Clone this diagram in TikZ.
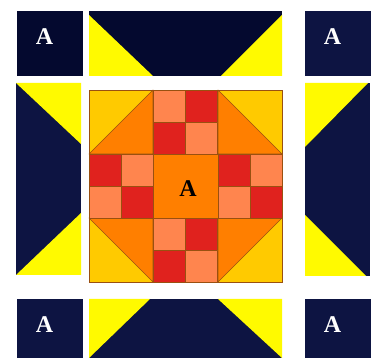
\documentclass[tikz,border=0pt]{standalone}
\usepackage{fontspec}
\setmainfont{Liberation Serif}
\usepackage{xcolor}
\usetikzlibrary{positioning}
\definecolor{quiltnavy}{HTML}{0D1442}
\definecolor{quiltdark}{HTML}{04092F}
\definecolor{quiltyellow}{HTML}{FFFA00}
\definecolor{quiltgold}{HTML}{FFCA00}
\definecolor{quiltorange}{HTML}{FF7F00}
\definecolor{quiltsalmon}{HTML}{FF854E}
\definecolor{quiltred}{HTML}{E0221E}
\definecolor{quiltseam}{HTML}{9A5010}

\tikzset{
  navypatch/.style={fill=quiltnavy},
  darkpatch/.style={fill=quiltdark},
  sunpatch/.style={fill=quiltyellow},
  seampatch/.style={draw=quiltseam, line width=0.6pt, line join=round},
  lettera/.style={font=\fontsize{24}{24}\selectfont\bfseries, text=white, inner sep=0pt},
  letterc/.style={lettera, text=black}
}

\begin{document}
\begin{tikzpicture}[x=1pt, y=-1pt]
  \useasboundingbox (0,0) rectangle (376,358);

  % corner squares
  \fill[darkpatch] (17,11) rectangle (83,76);
  \fill[navypatch] (305,11) rectangle (371,76);
  \fill[navypatch] (17,299) rectangle (83,358);
  \fill[navypatch] (305,299) rectangle (371,358);
  \node[lettera] (tlA) at (44.5,36.5) {A};
  \node[lettera] (trA) at (332.5,36.5) {A};
  \node[lettera] (blA) at (44.5,325) {A};
  \node[lettera] (brA) at (332.5,325) {A};

  % top band
  \fill[darkpatch] (89,11) rectangle (282,76);
  \fill[sunpatch] (89,15) -- (153,76) -- (89,76) -- cycle;
  \fill[sunpatch] (282,15) -- (221,76) -- (282,76) -- cycle;

  % bottom band
  \fill[navypatch] (89,299) rectangle (282,358);
  \fill[sunpatch] (89,299) -- (150,299) -- (89,358) -- cycle;
  \fill[sunpatch] (218,299) -- (282,299) -- (282,358) -- cycle;

  % left band
  \fill[navypatch] (16,83) rectangle (81,275);
  \fill[sunpatch] (16,83) -- (81,83) -- (81,144) -- cycle;
  \fill[sunpatch] (81,213) -- (81,275) -- (16,275) -- cycle;

  % right band
  \fill[navypatch] (305,83) rectangle (370,276);
  \fill[sunpatch] (305,83) -- (368,83) -- (305,147) -- cycle;
  \fill[sunpatch] (305,215) -- (366,276) -- (305,276) -- cycle;

  % centre block: corner cells
  \foreach \cx/\cy in {89/90, 218/90, 89/218, 218/218}
    \filldraw[seampatch, fill=quiltgold] (\cx,\cy) rectangle ++(64,64);
  \filldraw[seampatch, fill=quiltorange] (89,154) -- (153,90) -- (153,154) -- cycle;
  \filldraw[seampatch, fill=quiltorange] (218,90) -- (282,154) -- (218,154) -- cycle;
  \filldraw[seampatch, fill=quiltorange] (89,218) -- (153,218) -- (153,282) -- cycle;
  \filldraw[seampatch, fill=quiltorange] (218,218) -- (282,218) -- (218,282) -- cycle;

  % centre block: four-patches
  \foreach \px/\py/\ca/\cb in {153/90/quiltsalmon/quiltred, 89/154/quiltred/quiltsalmon,
                               218/154/quiltred/quiltsalmon, 153/218/quiltsalmon/quiltred} {
    \filldraw[seampatch, fill=\ca] (\px,\py) rectangle ++(32.5,32);
    \filldraw[seampatch, fill=\cb] (\px+32.5,\py) rectangle ++(32,32);
    \filldraw[seampatch, fill=\cb] (\px,\py+32) rectangle ++(32.5,32);
    \filldraw[seampatch, fill=\ca] (\px+32.5,\py+32) rectangle ++(32,32);
  }

  % centre block: middle square
  \filldraw[seampatch, fill=quiltorange] (153,154) rectangle (218,218);
  \draw[seampatch] (89,90) rectangle (282,282);
  \node[letterc] (midA) at (188,189) {A};
\end{tikzpicture}
\end{document}
